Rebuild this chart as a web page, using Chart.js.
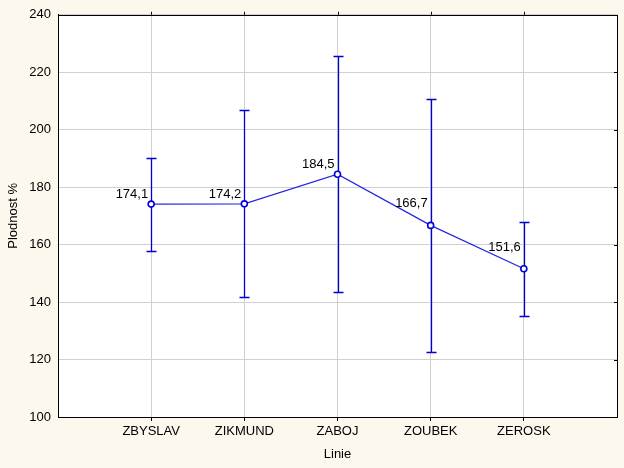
<!DOCTYPE html>
<html>
<head>
<meta charset="utf-8">
<script src="https://cdn.jsdelivr.net/npm/chart.js@4/dist/chart.umd.min.js"></script>
<style>
  html, body { margin: 0; padding: 0; background: #FCF8EE; }
  #wrap { width: 624px; height: 468px; }
</style>
</head>
<body>
<div id="wrap"><canvas id="c" width="624" height="468"></canvas></div>
<script>
const categories = ['ZBYSLAV', 'ZIKMUND', 'ZABOJ', 'ZOUBEK', 'ZEROSK'];
const means = [174.1, 174.2, 184.5, 166.7, 151.6];
const upper = [190.3, 206.8, 225.5, 210.7, 167.9];
const lower = [157.7, 141.6, 143.4, 122.5, 135.2];
const yMin = 100, yMax = 240, yStep = 20;
const xTitle = 'Linie';
const yTitle = 'Plodnost %';

const points = means.map((v, i) => ({ x: i + 1, y: v }));
const fmt = v => v.toFixed(1).replace('.', ',');

const FONT = { family: 'Arial, "Liberation Sans", sans-serif', size: 13 };

const bgPlugin = {
  id: 'bg',
  beforeDraw(chart) {
    const { ctx, chartArea: a } = chart;
    ctx.save();
    ctx.fillStyle = '#FCF8EE';
    ctx.fillRect(0, 0, chart.width, chart.height);
    ctx.fillStyle = '#FFFFFF';
    ctx.fillRect(a.left, a.top, a.right - a.left, a.bottom - a.top);
    ctx.restore();
  }
};

const errPlugin = {
  id: 'err',
  beforeDatasetsDraw(chart) {
    const { ctx, scales: { x, y } } = chart;
    ctx.save();
    ctx.strokeStyle = '#0000D0';
    ctx.lineWidth = 1.3;
    for (let i = 0; i < means.length; i++) {
      const px = Math.round(x.getPixelForValue(i + 1)) + 0.5;
      const pt = Math.round(y.getPixelForValue(upper[i])) + 0.5;
      const pb = Math.round(y.getPixelForValue(lower[i])) + 0.5;
      ctx.beginPath();
      ctx.moveTo(px, pt); ctx.lineTo(px, pb);
      ctx.moveTo(px - 5, pt); ctx.lineTo(px + 5, pt);
      ctx.moveTo(px - 5, pb); ctx.lineTo(px + 5, pb);
      ctx.stroke();
    }
    ctx.restore();
  },
  afterDatasetsDraw(chart) {
    const { ctx, chartArea: a, scales: { x, y } } = chart;
    ctx.save();
    ctx.strokeStyle = '#000';
    ctx.lineWidth = 1;
    ctx.strokeRect(Math.round(a.left) + 0.5, Math.round(a.top) + 0.5, Math.round(a.right - a.left), Math.round(a.bottom - a.top));
    ctx.beginPath();
    y.ticks.forEach(t => {
      const py = Math.round(y.getPixelForValue(t.value)) + 0.5;
      ctx.moveTo(a.right - 3, py); ctx.lineTo(a.right, py);
    });
    for (let i = 0; i < means.length; i++) {
      const px = Math.round(x.getPixelForValue(i + 1)) + 0.5;
      ctx.moveTo(px, a.top); ctx.lineTo(px, a.top - 3);
    }
    ctx.stroke();
    ctx.fillStyle = '#000';
    ctx.font = '13px Arial, "Liberation Sans", sans-serif';
    ctx.textAlign = 'right';
    ctx.textBaseline = 'bottom';
    for (let i = 0; i < means.length; i++) {
      const px = x.getPixelForValue(i + 1);
      const py = y.getPixelForValue(means[i]);
      const descending = i > 0 && means[i - 1] > means[i];
      ctx.fillText(fmt(means[i]), px - 3, py - (descending ? 15 : 3));
    }
    ctx.restore();
  }
};

new Chart(document.getElementById('c'), {
  type: 'line',
  data: {
    datasets: [{
      data: points,
      borderColor: '#2626E0',
      borderWidth: 1.2,
      pointRadius: 3,
      pointBorderWidth: 1.6,
      pointBorderColor: '#0000DD',
      pointBackgroundColor: '#FFFFFF',
      tension: 0,
      fill: false
    }]
  },
  options: {
    responsive: false,
    animation: false,
    devicePixelRatio: 1,
    layout: { padding: { top: 11, right: 7, left: 0, bottom: 0 } },
    plugins: { legend: { display: false }, tooltip: { enabled: false } },
    scales: {
      x: {
        type: 'linear',
        min: 0,
        max: categories.length + 1,
        afterFit(s) { s.height = 51; },
        afterBuildTicks(s) {
          s.ticks = [];
          for (let v = 0; v <= categories.length + 1; v++) s.ticks.push({ value: v });
        },
        ticks: {
          stepSize: 1,
          autoSkip: false,
          maxRotation: 0,
          padding: 3,
          color: '#000',
          font: FONT,
          callback: v => categories[v - 1] || ''
        },
        grid: {
          color: '#D0D0D0',
          lineWidth: 1,
          tickLength: 4,
          tickColor: ctx => (ctx.index === 0 || ctx.index === categories.length + 1) ? 'rgba(0,0,0,0)' : '#000'
        },
        border: { display: true, color: '#000', width: 1 },
        title: { display: true, text: xTitle, color: '#000', font: FONT, padding: { top: 0, bottom: 6 } }
      },
      y: {
        min: yMin,
        max: yMax,
        afterFit(s) { s.width = 58; },
        ticks: { stepSize: yStep, padding: 7, color: '#000', font: FONT },
        grid: { color: '#D0D0D0', lineWidth: 1, drawTicks: false },
        border: { display: true, color: '#000', width: 1 },
        title: { display: true, text: yTitle, color: '#000', font: FONT, padding: { top: 6, bottom: 0 } }
      }
    }
  },
  plugins: [bgPlugin, errPlugin]
});
</script>
</body>
</html>
